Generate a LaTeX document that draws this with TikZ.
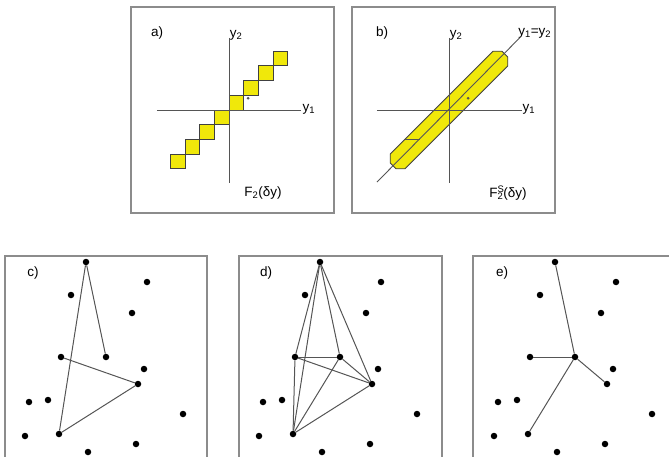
\documentclass[tikz,border=0pt]{standalone}
\usepackage{fontspec}
\setmainfont{Liberation Sans}
\usepackage{tikz}
\usetikzlibrary{positioning}
\definecolor{cellYellow}{RGB}{240, 232, 10}
\definecolor{axisGray}{RGB}{85, 85, 85}
\definecolor{frameGray}{RGB}{140, 140, 140}

\begin{document}
\begin{tikzpicture}[
    x=1pt, y=-1pt,
    frame/.style={draw=frameGray, line width=1.5pt},
    axis/.style={draw=axisGray, line width=0.9pt},
    cell/.style={draw=black!75, fill=cellYellow, line width=0.8pt},
    site/.style={circle, fill=black, inner sep=0pt, minimum size=6.5pt},
    link/.style={draw=axisGray, line width=1pt},
    tag/.style={font=\fontsize{13.5}{15}\selectfont, inner sep=0pt},
  ]
    \useasboundingbox (0,0) rectangle (669,457);

    % Panel a: staircase of cells
    \draw[frame] (131,7) rectangle (334,213);
    \begin{scope}[shift={(229,110)}, x=14.7pt, y=14.7pt]
      \foreach \k in {-4,...,3}
        \draw[cell] (\k,\k) rectangle ++(1,1);
      \draw[axis] (-4.9,0) -- (4.9,0);
      \draw[axis] (0,4.9) -- (0,-5);
      \fill[axisGray] (1.3,0.8) circle (1.4pt);
      \node[tag, anchor=west] (aY1) at (5.0,0.05) {y\textsubscript{1}};
      \node[tag, anchor=west] (aY2) at (0.05,5.1) {y\textsubscript{2}};
    \end{scope}
    \node[tag] (aLbl) at (157,33) {a)};
    \node[tag] (aFun) at (263,193) {F\textsubscript{2}(δy)};

    % Panel b: smoothed band along the diagonal
    \draw[frame] (352,7) rectangle (555,213);
    \begin{scope}[shift={(449,110)}, x=14.7pt, y=14.7pt]
      \draw[cell] (-4,-3) -- (-4,-3.6) -- (-3.6,-4) -- (-3,-4) -- (4,3)
        -- (4,3.6) -- (3.6,4) -- (3,4) -- cycle;
      \draw[axis] (-4.9,0) -- (4.95,0);
      \draw[axis] (0,4.9) -- (0,-5);
      \draw[axis] (-4.9,-4.9) -- (4.8,4.9);
      \draw[axis] (-3,-2) -- (-2,-2);
      \fill[axisGray] (1.3,0.8) circle (1.4pt);
      \node[tag, anchor=west] (bY1) at (5.0,0.05) {y\textsubscript{1}};
      \node[tag, anchor=west] (bY2) at (0.05,5.1) {y\textsubscript{2}};
      \node[tag, anchor=west] (bDiag) at (4.7,5.2) {y\textsubscript{1}=y\textsubscript{2}};
    \end{scope}
    \node[tag] (bLbl) at (382,33) {b)};
    \node[tag] (bFun) at (508,193) {F\rlap{\textsuperscript{S}}\textsubscript{2}(δy)};

    % Panels c-e: same point set in each frame
    \draw[frame] (5,457) -- (5,256) -- (207,256) -- (207,457);
    \draw[frame] (239,457) -- (239,256) -- (442,256) -- (442,457);
    \draw[frame] (473,457) -- (473,256) -- (669,256);
    \foreach \p/\dx in {c/0, d/234, e/469}{
      \begin{scope}[xshift=\dx]
        \foreach \n/\px/\py in {1/86/262, 2/147/282, 3/71/295, 4/132/313,
            5/61/357, 6/106/357, 7/144/369, 8/138/384, 9/29/402, 10/48/400,
            11/183/414, 12/25/436, 13/59/434, 14/136/444, 15/88/452}
          \node[site] (\p\n) at (\px,\py) {};
      \end{scope}
    }
    \node[tag] (cLbl) at (33,273) {c)};
    \node[tag] (dLbl) at (266,273) {d)};
    \node[tag] (eLbl) at (502,273) {e)};

    % c: two paths
    \draw[link] (c1) -- (c6) (c1) -- (c13) (c5) -- (c8) (c8) -- (c13);
    % d: all pairs of the five linked sites
    \foreach \u/\v in {1/5, 1/6, 1/8, 1/13, 5/6, 5/8, 5/13, 6/8, 6/13, 8/13}
      \draw[link] (d\u) -- (d\v);
    % e: star around the hub
    \foreach \v in {1, 5, 8, 13}
      \draw[link] (e6) -- (e\v);
  \end{tikzpicture}
\end{document}
